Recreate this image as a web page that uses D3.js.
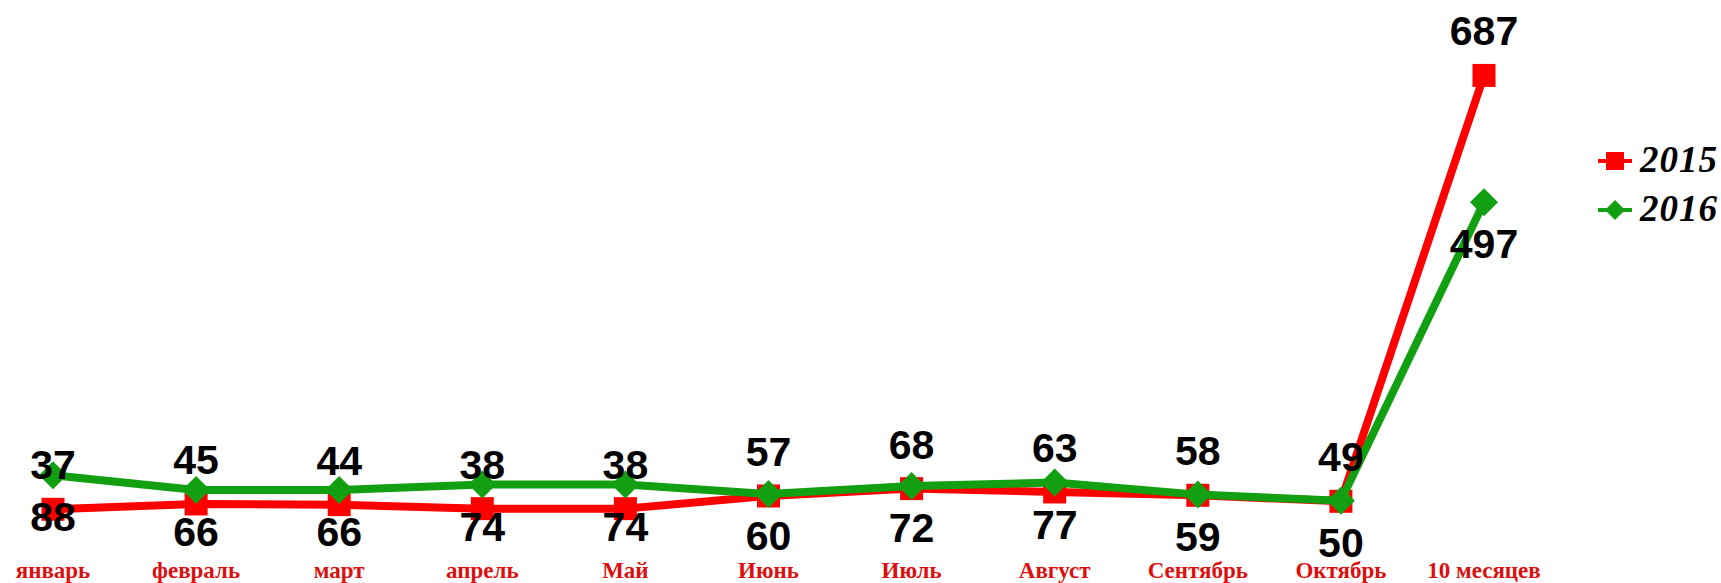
<!DOCTYPE html>
<html><head><meta charset="utf-8">
<script src="https://cdn.jsdelivr.net/npm/d3@7"></script>
<style>html,body{margin:0;padding:0;background:#fff;overflow:hidden}</style>
</head><body><svg id="c" width="1721" height="583"></svg>
<script>
const categories = ["январь","февраль","март","апрель","Май","Июнь","Июль","Август","Сентябрь","Октябрь","10 месяцев"];
const values2015 = [37,45,44,38,38,57,68,63,58,49,687];
const values2016 = [88,66,66,74,74,60,72,77,59,50,497];
const seriesNames = ["2015","2016"];

const svg = d3.select("#c");
const x = d3.scalePoint().domain(categories).range([53, 1484]);
const y = d3.scaleLinear().domain([0, 800]).range([534, 0]);

const RED = "#ff0000", GREEN = "#12a012";

const line = d3.line().x((d,i)=>x(categories[i])).y(d=>y(d));

// 2015 series
svg.append("path").datum(values2015).attr("d", line)
  .attr("fill","none").attr("stroke",RED).attr("stroke-width",8).attr("stroke-linejoin","round");
svg.selectAll(".sq").data(values2015).enter().append("rect")
  .attr("x",(d,i)=>x(categories[i])-11.5).attr("y",d=>y(d)-11.5)
  .attr("width",23).attr("height",23).attr("fill",RED);

// 2016 series
svg.append("path").datum(values2016).attr("d", line)
  .attr("fill","none").attr("stroke",GREEN).attr("stroke-width",8).attr("stroke-linejoin","round");
const diamond = (cx,cy,r)=>`M${cx},${cy-r}L${cx+r},${cy}L${cx},${cy+r}L${cx-r},${cy}Z`;
svg.selectAll(".dm").data(values2016).enter().append("path")
  .attr("d",(d,i)=>diamond(x(categories[i]), y(d), 14)).attr("fill",GREEN);

// data labels
svg.selectAll(".l15").data(values2015).enter().append("text")
  .attr("x",(d,i)=>x(categories[i])).attr("y",d=>y(d)-30)
  .attr("text-anchor","middle").attr("font-family","'Liberation Sans', Arial, sans-serif")
  .attr("font-weight","bold").attr("font-size",41).attr("fill","#000").text(d=>d);
svg.selectAll(".l16").data(values2016).enter().append("text")
  .attr("x",(d,i)=>x(categories[i])).attr("y",d=>y(d)+56)
  .attr("text-anchor","middle").attr("font-family","'Liberation Sans', Arial, sans-serif")
  .attr("font-weight","bold").attr("font-size",41).attr("fill","#000").text(d=>d);

// category axis labels
svg.selectAll(".cat").data(categories).enter().append("text")
  .attr("x",d=>x(d)).attr("y",578)
  .attr("text-anchor","middle").attr("font-family","'Liberation Serif', 'Times New Roman', serif")
  .attr("font-weight","bold").attr("font-size",23).attr("fill","#dd0e0e").text(d=>d);

// legend
const lg = svg.append("g");
const legendItems = [{name:seriesNames[0], color:RED, shape:"sq", cy:161},{name:seriesNames[1], color:GREEN, shape:"dm", cy:210}];
legendItems.forEach(it=>{
  lg.append("line").attr("x1",1598).attr("x2",1632).attr("y1",it.cy).attr("y2",it.cy)
    .attr("stroke",it.color).attr("stroke-width",4);
  if(it.shape==="sq") lg.append("rect").attr("x",1606).attr("y",it.cy-9).attr("width",18).attr("height",18).attr("fill",it.color);
  else lg.append("path").attr("d",diamond(1615,it.cy,10)).attr("fill",it.color);
  lg.append("text").attr("x",1640).attr("y",it.cy+11)
    .attr("font-family","'Liberation Serif', 'Times New Roman', serif").attr("font-style","italic")
    .attr("font-weight","bold").attr("font-size",37).attr("letter-spacing",1).attr("fill","#000").text(it.name);
});
</script></body></html>
